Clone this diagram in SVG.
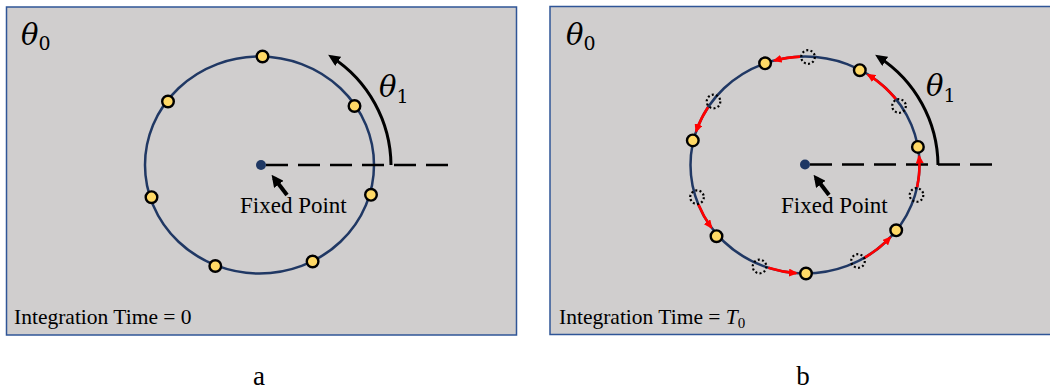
<svg xmlns="http://www.w3.org/2000/svg" width="1050" height="390" viewBox="0 0 1050 390">
  <style>
    .panel { fill: #d0cece; stroke: #2f5597; stroke-width: 1.5; }
    .orbit { fill: none; stroke: #203864; stroke-width: 2.5; }
    .dash { fill: none; stroke: #000; stroke-width: 2.6; stroke-dasharray: 22 10; }
    .theta-arc { fill: none; stroke: #000; stroke-width: 3; }
    .pointer { fill: none; stroke: #000; stroke-width: 4; }
    .red { fill: none; stroke: #ff0000; stroke-width: 2.6; }
    .pt { fill: #ffd966; stroke: #000; stroke-width: 2.4; }
    .ghost { fill: none; stroke: #000; stroke-width: 2.2; stroke-dasharray: 2 2.3; }
    .fp { fill: #1f3864; }
    .lbl { font-family: "Liberation Serif", "Times New Roman", serif; fill: #000; }
    .greek { font-family: "DejaVu Serif", "Liberation Serif", serif; font-style: italic; fill: #000; }
    .gsub { font-family: "DejaVu Serif", "Liberation Serif", serif; font-style: normal; fill: #000; }
    .math { font-family: "Liberation Serif", serif; font-style: italic; fill: #000; }
    .sub { font-family: "Liberation Serif", serif; font-style: normal; fill: #000; }
  </style>
  <defs>
    <marker id="arrBlk" markerUnits="userSpaceOnUse" markerWidth="12" markerHeight="11" refX="8" refY="5.5" orient="auto">
      <path d="M0,0 L12,5.5 L0,11 z" fill="#000"/>
    </marker>
    <marker id="arrPtr" markerUnits="userSpaceOnUse" markerWidth="12" markerHeight="12" refX="8" refY="6" orient="auto">
      <path d="M0,0 L12,6 L0,12 z" fill="#000"/>
    </marker>
    <marker id="arrRed" markerUnits="userSpaceOnUse" markerWidth="9" markerHeight="8" refX="7" refY="4" orient="auto">
      <path d="M0,0 L9,4 L0,8 z" fill="#ff0000"/>
    </marker>
  </defs>

  <!-- Panel a -->
  <g id="panel-a">
    <rect class="panel" x="6.5" y="7" width="510" height="328"/>
    <text class="greek" x="21" y="45" font-size="29">θ<tspan class="gsub" font-size="19" dy="5">0</tspan></text>
    <text class="lbl" x="14" y="324" font-size="21.5">Integration Time = 0</text>
  </g>

  <g id="orbit-a">
    <ellipse class="orbit" cx="259.5" cy="165" rx="114.5" ry="108.5"/>
  </g>

  <g id="connectors-a">
    <line class="dash" x1="266" y1="165" x2="448" y2="165"/>
    <path class="theta-arc" d="M 391 165 A 130 130 0 0 0 331.5 57" marker-end="url(#arrBlk)"/>
    <line class="pointer" x1="287" y1="195" x2="274" y2="178" marker-end="url(#arrPtr)"/>
  </g>

  <g id="theta1-a">
    <text class="greek" x="379" y="97" font-size="29">θ<tspan class="gsub" font-size="19" dy="6">1</tspan></text>
  </g>

  <g id="points-a">
    <circle class="pt" cx="262.5" cy="56.5" r="5.8"/>
    <circle class="pt" cx="354.5" cy="106" r="5.8"/>
    <circle class="pt" cx="168" cy="101.5" r="5.8"/>
    <circle class="pt" cx="151.5" cy="197.2" r="5.8"/>
    <circle class="pt" cx="371" cy="194.8" r="5.8"/>
    <circle class="pt" cx="215.3" cy="266" r="5.8"/>
    <circle class="pt" cx="312.6" cy="261.5" r="5.8"/>
  </g>

  <g id="fixed-point-a">
    <circle class="fp" cx="261" cy="165" r="5"/>
    <text class="lbl" x="240" y="213" font-size="23">Fixed Point</text>
  </g>

  <!-- Panel b -->
  <g id="panel-b">
    <rect class="panel" x="550" y="6.5" width="510" height="328"/>
    <text class="greek" x="566" y="45" font-size="29">θ<tspan class="gsub" font-size="19" dy="5">0</tspan></text>
    <text class="lbl" x="559" y="324" font-size="21.5">Integration Time = <tspan class="math">T</tspan><tspan class="sub" font-size="15" dy="4">0</tspan></text>
  </g>

  <g id="orbit-b">
    <ellipse class="orbit" cx="805" cy="165" rx="114.5" ry="108.5"/>
  </g>

  <g id="connectors-b">
    <line class="dash" x1="810" y1="164.5" x2="992" y2="164.5"/>
    <path class="theta-arc" d="M 938 165 A 130 130 0 0 0 878.5 57" marker-end="url(#arrBlk)"/>
    <line class="pointer" x1="829" y1="195" x2="816" y2="178" marker-end="url(#arrPtr)"/>
    <path class="red" d="M 800.0 56.6 A 114.5 108.5 0 0 0 774.5 60.5" marker-end="url(#arrRed)"/>
    <path class="red" d="M 895.8 98.9 A 114.5 108.5 0 0 0 868.2 74.8" marker-end="url(#arrRed)"/>
    <path class="red" d="M 708.0 107.3 A 114.5 108.5 0 0 0 696.2 131.2" marker-end="url(#arrRed)"/>
    <path class="red" d="M 698.4 204.6 A 114.5 108.5 0 0 0 711.2 227.3" marker-end="url(#arrRed)"/>
    <path class="red" d="M 917.1 187.2 A 114.5 108.5 0 0 0 919.1 156.4" marker-end="url(#arrRed)"/>
    <path class="red" d="M 768.3 267.8 A 114.5 108.5 0 0 0 796.0 273.1" marker-end="url(#arrRed)"/>
    <path class="red" d="M 864.7 257.6 A 114.5 108.5 0 0 0 890.0 237.6" marker-end="url(#arrRed)"/>
  </g>

  <g id="theta1-b">
    <text class="greek" x="926" y="96" font-size="29">θ<tspan class="gsub" font-size="19" dy="6">1</tspan></text>
  </g>

  <g id="ghosts-b">
    <circle class="ghost" cx="808" cy="57" r="6.8"/>
    <circle class="ghost" cx="899" cy="106" r="6.8"/>
    <circle class="ghost" cx="713.5" cy="101.5" r="6.8"/>
    <circle class="ghost" cx="697" cy="197.2" r="6.8"/>
    <circle class="ghost" cx="916.5" cy="195" r="6.8"/>
    <circle class="ghost" cx="759.5" cy="266.5" r="6.8"/>
    <circle class="ghost" cx="858" cy="261" r="6.8"/>
  </g>

  <g id="points-b">
    <circle class="pt" cx="765.1" cy="63.3" r="5.8"/>
    <circle class="pt" cx="859.8" cy="70.2" r="5.8"/>
    <circle class="pt" cx="692.8" cy="140.4" r="5.8"/>
    <circle class="pt" cx="716.5" cy="236.2" r="5.8"/>
    <circle class="pt" cx="917.9" cy="146.9" r="5.8"/>
    <circle class="pt" cx="806" cy="273.5" r="5.8"/>
    <circle class="pt" cx="896.2" cy="230.3" r="5.8"/>
  </g>

  <g id="fixed-point-b">
    <circle class="fp" cx="805" cy="164.5" r="5"/>
    <text class="lbl" x="781" y="213" font-size="23">Fixed Point</text>
  </g>

  <g id="captions">
    <text class="lbl" x="259" y="385" font-size="27" text-anchor="middle">a</text>
    <text class="lbl" x="803" y="385" font-size="27" text-anchor="middle">b</text>
  </g>
</svg>
